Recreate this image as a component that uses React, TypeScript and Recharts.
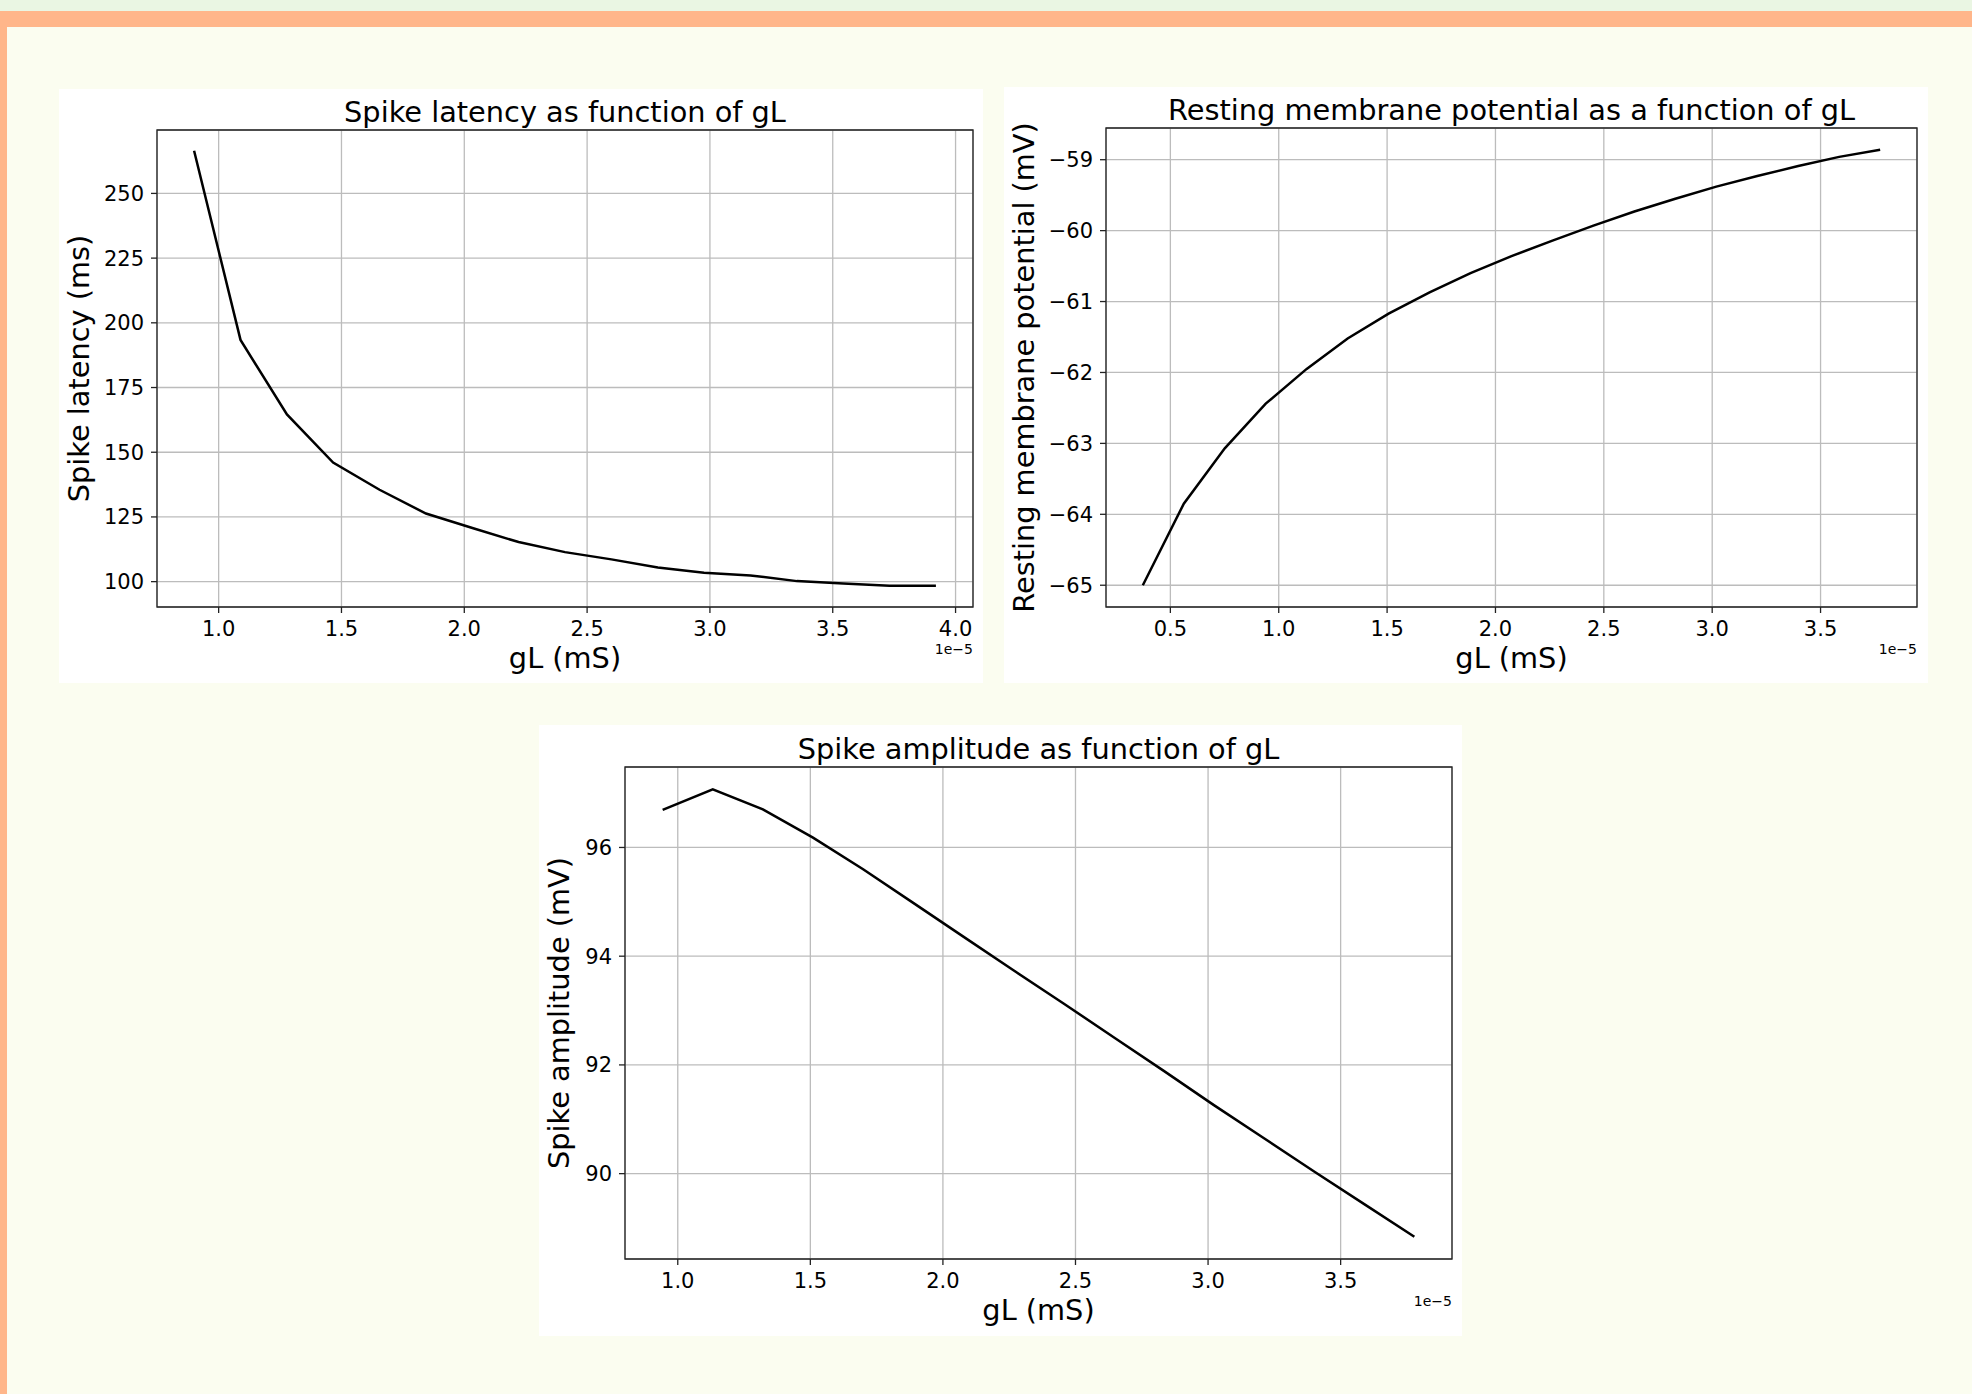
import { LineChart, Line, XAxis, YAxis, CartesianGrid, ReferenceArea } from 'recharts'

// gL values are in units of 1e-5 mS (matplotlib offset shown as "1e−5")
const latencyGL = [0.9, 1.089, 1.278, 1.466, 1.655, 1.844, 2.033, 2.221, 2.41, 2.599, 2.788, 2.976, 3.165, 3.354, 3.543, 3.731, 3.92]
const latencyMs = [266.5, 193.4, 164.6, 146.0, 135.5, 126.3, 120.7, 115.3, 111.4, 108.6, 105.5, 103.4, 102.4, 100.2, 99.3, 98.4, 98.4]
const latencyXTicks = [1.0, 1.5, 2.0, 2.5, 3.0, 3.5, 4.0]
const latencyYTicks = [100, 125, 150, 175, 200, 225, 250]

const restGL = [0.373, 0.562, 0.751, 0.94, 1.129, 1.318, 1.507, 1.696, 1.885, 2.074, 2.263, 2.452, 2.641, 2.83, 3.019, 3.208, 3.397, 3.586, 3.775]
const restMV = [-65.0, -63.85, -63.07, -62.44, -61.95, -61.52, -61.17, -60.87, -60.6, -60.36, -60.14, -59.93, -59.73, -59.55, -59.38, -59.23, -59.09, -58.96, -58.86]
const restXTicks = [0.5, 1.0, 1.5, 2.0, 2.5, 3.0, 3.5]
const restYTicks = [-65, -64, -63, -62, -61, -60, -59]

const ampGL = [0.943, 1.132, 1.321, 1.51, 1.699, 1.888, 2.077, 2.266, 2.455, 2.644, 2.833, 3.022, 3.211, 3.4, 3.589, 3.778]
const ampMV = [96.69, 97.07, 96.7, 96.18, 95.6, 94.98, 94.36, 93.74, 93.13, 92.51, 91.89, 91.26, 90.65, 90.04, 89.44, 88.84]
const ampXTicks = [1.0, 1.5, 2.0, 2.5, 3.0, 3.5]
const ampYTicks = [90, 92, 94, 96]

const FONT = '"DejaVu Sans", sans-serif'
const GRID = '#bcbcbc'
const SPINE = '#222'

type Box = { x: number; y: number; w: number; h: number }
type Axes = { x0: number; y0: number; x1: number; y1: number }

type PlotProps = {
  panel: Box
  axes: Axes
  title: string
  yLabel: string
  yLabelDx: number
  xs: number[]
  ys: number[]
  xDomain: [number, number]
  yDomain: [number, number]
  xTicks: number[]
  yTicks: number[]
}

const fmtX = (v: number) => v.toFixed(1)
const fmtY = (v: number) => (v < 0 ? `\u2212${Math.abs(v)}` : String(v))

function Plot({ panel, axes, title, yLabel, yLabelDx, xs, ys, xDomain, yDomain, xTicks, yTicks }: PlotProps) {
  const data = xs.map((x, i) => ({ x, y: ys[i] }))
  const top = axes.y0 - panel.y
  const yAxisWidth = axes.x0 - panel.x
  const right = panel.x + panel.w - axes.x1
  const xAxisHeight = panel.y + panel.h - axes.y1
  const cx = (axes.x0 + axes.x1) / 2 - panel.x
  const cy = (axes.y0 + axes.y1) / 2 - panel.y
  const tick = { fill: '#000', fontSize: 21, fontFamily: FONT }

  return (
    <div style={{ position: 'absolute', left: panel.x, top: panel.y, width: panel.w, height: panel.h, background: '#fff' }}>
      <LineChart width={panel.w} height={panel.h} data={data} margin={{ top, right, bottom: 0, left: 0 }}>
        <CartesianGrid stroke={GRID} strokeWidth={1.3} />
        <XAxis
          dataKey="x"
          type="number"
          domain={xDomain}
          ticks={xTicks}
          interval={0}
          allowDataOverflow
          tickFormatter={fmtX}
          height={xAxisHeight}
          axisLine={false}
          tickLine={{ stroke: SPINE, strokeWidth: 1.3 }}
          tickSize={6}
          tickMargin={8}
          tick={tick}
        />
        <YAxis
          type="number"
          domain={yDomain}
          ticks={yTicks}
          interval={0}
          allowDataOverflow
          tickFormatter={fmtY}
          width={yAxisWidth}
          axisLine={false}
          tickLine={{ stroke: SPINE, strokeWidth: 1.3 }}
          tickSize={6}
          tickMargin={7}
          tick={tick}
        />
        <Line type="linear" dataKey="y" stroke="#000" strokeWidth={2.5} dot={false} isAnimationActive={false} />
        <ReferenceArea x1={xDomain[0]} x2={xDomain[1]} y1={yDomain[0]} y2={yDomain[1]} fill="none" stroke={SPINE} strokeWidth={1.3} />
      </LineChart>
      <svg width={panel.w} height={panel.h} style={{ position: 'absolute', left: 0, top: 0, pointerEvents: 'none' }} fontFamily={FONT}>
        <text x={cx} y={top - 8} textAnchor="middle" fontSize={28.8} fill="#000">{title}</text>
        <text x={cx} y={axes.y1 - panel.y + 61} textAnchor="middle" fontSize={28.8} fill="#000">gL (mS)</text>
        <text
          x={axes.x0 - panel.x + yLabelDx}
          y={cy}
          transform={`rotate(-90 ${axes.x0 - panel.x + yLabelDx} ${cy})`}
          textAnchor="middle"
          fontSize={28.8}
          fill="#000"
        >
          {yLabel}
        </text>
        <text x={axes.x1 - panel.x} y={axes.y1 - panel.y + 47} textAnchor="end" fontSize={14} fill="#000">1e{'\u2212'}5</text>
      </svg>
    </div>
  )
}

export default function App() {
  return (
    <div style={{ position: 'absolute', left: 0, top: 0, width: 1972, height: 1394, overflow: 'hidden', background: '#fbfdf0', fontFamily: FONT }}>
      <div style={{ position: 'absolute', left: 0, top: 0, width: 1972, height: 11, background: '#eaf6e3' }} />
      <div style={{ position: 'absolute', left: 0, top: 11, width: 1972, height: 16, background: '#ffb68a' }} />
      <div style={{ position: 'absolute', left: 0, top: 11, width: 7, height: 1383, background: '#ffb68a' }} />

      <Plot
        panel={{ x: 59, y: 89, w: 924, h: 594 }}
        axes={{ x0: 157, y0: 130, x1: 973, y1: 607 }}
        title="Spike latency as function of gL"
        yLabel="Spike latency (ms)"
        yLabelDx={-68}
        xs={latencyGL}
        ys={latencyMs}
        xDomain={[0.749, 4.071]}
        yDomain={[90.2, 274.5]}
        xTicks={latencyXTicks}
        yTicks={latencyYTicks}
      />
      <Plot
        panel={{ x: 1004, y: 87, w: 924, h: 596 }}
        axes={{ x0: 1106, y0: 128, x1: 1917, y1: 607 }}
        title="Resting membrane potential as a function of gL"
        yLabel="Resting membrane potential (mV)"
        yLabelDx={-72}
        xs={restGL}
        ys={restMV}
        xDomain={[0.203, 3.945]}
        yDomain={[-65.307, -58.553]}
        xTicks={restXTicks}
        yTicks={restYTicks}
      />
      <Plot
        panel={{ x: 539, y: 725, w: 923, h: 611 }}
        axes={{ x0: 625, y0: 767, x1: 1452, y1: 1259 }}
        title="Spike amplitude as function of gL"
        yLabel="Spike amplitude (mV)"
        yLabelDx={-56}
        xs={ampGL}
        ys={ampMV}
        xDomain={[0.801, 3.92]}
        yDomain={[88.43, 97.48]}
        xTicks={ampXTicks}
        yTicks={ampYTicks}
      />
    </div>
  )
}
